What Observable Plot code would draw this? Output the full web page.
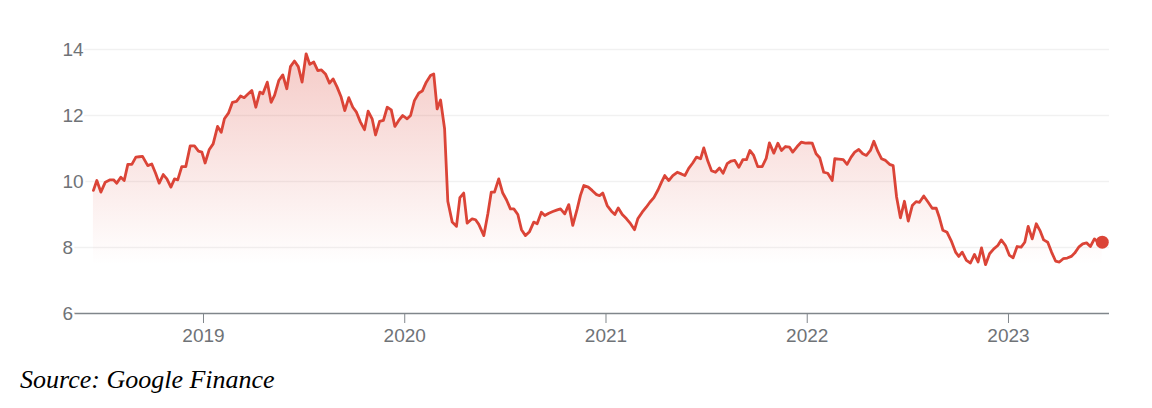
<!DOCTYPE html>
<html><head><meta charset="utf-8">
<script src="https://cdn.jsdelivr.net/npm/d3@7"></script>
<script src="https://cdn.jsdelivr.net/npm/@observablehq/plot@0.6"></script>
<style>
html,body{margin:0;padding:0;background:#fff;}
#chart{width:1152px;height:350px;}
#caption{margin:17px 0 0 20px;font:italic 26px "Liberation Serif","Times New Roman",serif;line-height:1;color:#000;}
</style></head><body>
<div id="chart"></div>
<div id="caption"></div>
<script>
// Weekly closing prices, x as decimal years
const years = [
2018.453,2018.470,2018.490,2018.512,2018.536,2018.553,2018.569,2018.589,2018.606,2018.624,
2018.644,2018.664,2018.681,2018.697,2018.723,2018.743,2018.762,2018.780,2018.800,2018.818,
2018.838,2018.856,2018.872,2018.892,2018.912,2018.934,2018.955,2018.975,2018.992,2019.008,
2019.028,2019.048,2019.070,2019.088,2019.104,2019.124,2019.144,2019.164,2019.184,2019.202,
2019.221,2019.240,2019.260,2019.280,2019.295,2019.317,2019.336,2019.353,2019.374,2019.394,
2019.414,2019.432,2019.452,2019.471,2019.490,2019.510,2019.528,2019.548,2019.568,2019.586,
2019.606,2019.626,2019.644,2019.664,2019.684,2019.702,2019.722,2019.742,2019.760,2019.780,
2019.800,2019.818,2019.838,2019.855,2019.875,2019.894,2019.913,2019.933,2019.951,2019.970,
2019.990,2020.012,2020.029,2020.048,2020.070,2020.087,2020.107,2020.128,2020.144,2020.161,
2020.178,2020.198,2020.214,2020.236,2020.257,2020.274,2020.293,2020.310,2020.335,2020.352,
2020.368,2020.393,2020.413,2020.430,2020.446,2020.467,2020.487,2020.506,2020.525,2020.542,
2020.562,2020.580,2020.600,2020.620,2020.641,2020.658,2020.679,2020.696,2020.716,2020.736,
2020.758,2020.774,2020.795,2020.815,2020.835,2020.857,2020.873,2020.890,2020.912,2020.931,
2020.951,2020.968,2020.984,2021.006,2021.027,2021.044,2021.061,2021.081,2021.102,2021.122,
2021.142,2021.158,2021.180,2021.200,2021.218,2021.238,2021.259,2021.276,2021.292,2021.312,
2021.332,2021.354,2021.374,2021.392,2021.411,2021.431,2021.450,2021.470,2021.486,2021.506,
2021.524,2021.544,2021.564,2021.582,2021.602,2021.622,2021.640,2021.660,2021.680,2021.698,
2021.715,2021.734,2021.754,2021.776,2021.796,2021.812,2021.834,2021.854,2021.872,2021.892,
2021.912,2021.928,2021.950,2021.970,2021.991,2022.008,2022.025,2022.044,2022.062,2022.082,
2022.102,2022.124,2022.137,2022.157,2022.179,2022.198,2022.218,2022.236,2022.256,2022.276,
2022.294,2022.314,2022.331,2022.351,2022.369,2022.389,2022.409,2022.427,2022.444,2022.463,
2022.483,2022.502,2022.522,2022.541,2022.558,2022.579,2022.601,2022.621,2022.641,2022.657,
2022.674,2022.695,2022.715,2022.737,2022.753,2022.770,2022.791,2022.811,2022.831,2022.849,
2022.866,2022.886,2022.906,2022.927,2022.947,2022.964,2022.985,2023.005,2023.023,2023.043,
2023.063,2023.081,2023.098,2023.118,2023.138,2023.156,2023.175,2023.195,2023.214,2023.234,
2023.253,2023.272,2023.292,2023.312,2023.329,2023.349,2023.369,2023.388,2023.407,2023.427,
2023.446,2023.466
];
const prices = [
9.73,10.03,9.68,9.98,10.05,10.05,9.95,10.13,10.03,10.52,
10.52,10.74,10.75,10.76,10.48,10.53,10.25,9.95,10.21,10.08,
9.83,10.08,10.05,10.45,10.45,11.08,11.08,10.92,10.89,10.56,
10.96,11.14,11.67,11.49,11.90,12.07,12.40,12.43,12.59,12.54,
12.65,12.76,12.25,12.71,12.66,13.01,12.40,12.61,13.06,13.23,
12.81,13.48,13.65,13.48,13.01,13.87,13.55,13.62,13.36,13.38,
13.26,12.98,13.11,12.86,12.56,12.15,12.54,12.25,12.10,11.80,
11.57,12.13,11.90,11.41,11.82,11.85,12.25,12.17,11.67,11.85,
12.00,11.90,12.00,12.45,12.68,12.74,13.01,13.21,13.26,12.20,
12.47,11.60,9.40,8.77,8.64,9.51,9.65,8.74,8.87,8.84,
8.70,8.36,9.02,9.68,9.68,10.08,9.65,9.44,9.17,9.17,
9.00,8.54,8.36,8.48,8.77,8.72,9.07,8.97,9.04,9.09,
9.14,9.17,9.02,9.30,8.67,9.17,9.58,9.88,9.83,9.73,
9.61,9.57,9.65,9.27,9.10,9.00,9.20,9.00,8.87,8.72,
8.54,8.87,9.07,9.22,9.37,9.51,9.75,9.98,10.18,10.03,
10.18,10.28,10.23,10.18,10.40,10.56,10.74,10.69,11.02,10.62,
10.33,10.28,10.41,10.25,10.54,10.62,10.64,10.43,10.66,10.66,
10.94,10.79,10.45,10.45,10.70,11.17,10.86,11.16,10.94,11.06,
11.04,10.89,11.06,11.19,11.16,11.17,11.16,10.84,10.72,10.28,
10.25,10.03,10.69,10.68,10.66,10.52,10.74,10.89,10.97,10.84,
10.79,10.94,11.22,10.91,10.69,10.64,10.52,10.48,9.53,8.90,
9.40,8.80,9.27,9.39,9.37,9.56,9.37,9.19,9.19,8.90,
8.52,8.46,8.21,7.86,7.73,7.86,7.61,7.53,7.79,7.56,
7.99,7.48,7.81,7.96,8.06,8.23,8.06,7.76,7.69,8.03,
8.01,8.16,8.64,8.26,8.72,8.52,8.23,8.16,7.86,7.59,
7.56,7.66,7.68,7.73,7.83,8.01,8.11,8.14,8.03,8.26,
8.16,8.16
];
const yTicks = [6, 8, 10, 12, 14];
const gridValues = [8, 10, 12, 14];
const xTickYears = [2019, 2020, 2021, 2022, 2023];
const sourceText = "Source: Google Finance";

const data = years.map((t, i) => ({t, v: prices[i]}));
const last = data[data.length - 1];
const minV = d3.min(prices);
const red = "#db4437";

const gradientDefs = () => {
  const defs = d3.create("svg:defs");
  const g = defs.append("linearGradient").attr("id", "fadeRed")
    .attr("x1", 0).attr("y1", 0).attr("x2", 0).attr("y2", 1);
  g.append("stop").attr("offset", "0%").attr("stop-color", red).attr("stop-opacity", 0.28);
  g.append("stop").attr("offset", "100%").attr("stop-color", red).attr("stop-opacity", 0);
  return defs.node();
};

const chart = Plot.plot({
  width: 1152, height: 350,
  marginLeft: 74, marginRight: 43, marginTop: 49, marginBottom: 37,
  style: {fontFamily: '"Liberation Sans", Arial, sans-serif', fontSize: "19px", background: "#fff", overflow: "visible"},
  x: {type: "linear", domain: [2018.359, 2023.502]},
  y: {domain: [6, 14], axis: null},
  marks: [
    gradientDefs,
    Plot.ruleY(gridValues, {stroke: "#f1f1f1", strokeWidth: 1.5}),
    Plot.areaY(data, {x: "t", y1: () => minV, y2: "v", fill: "url(#fadeRed)"}),
    Plot.ruleY([yTicks[0]], {stroke: "#80868b", strokeWidth: 1.5}),
    Plot.axisX({ticks: xTickYears, tickFormat: d3.format("d"), tickSize: 10, tickPadding: 5, stroke: "#80868b", fill: "#6f7377", fontSize: 19, label: null}),
    Plot.text(yTicks, {y: d => d, frameAnchor: "left", dx: -12, textAnchor: "start", text: d => String(d), fill: "#6f7377", stroke: "#fff", strokeWidth: 5, paintOrder: "stroke", fontSize: 19}),
    Plot.line(data, {x: "t", y: "v", stroke: red, strokeWidth: 2.8, strokeLinejoin: "round"}),
    Plot.dot([last], {x: "t", y: "v", r: 6.5, fill: red})
  ]
});
document.getElementById("chart").append(chart);
document.getElementById("caption").textContent = sourceText;
</script>
</body></html>
